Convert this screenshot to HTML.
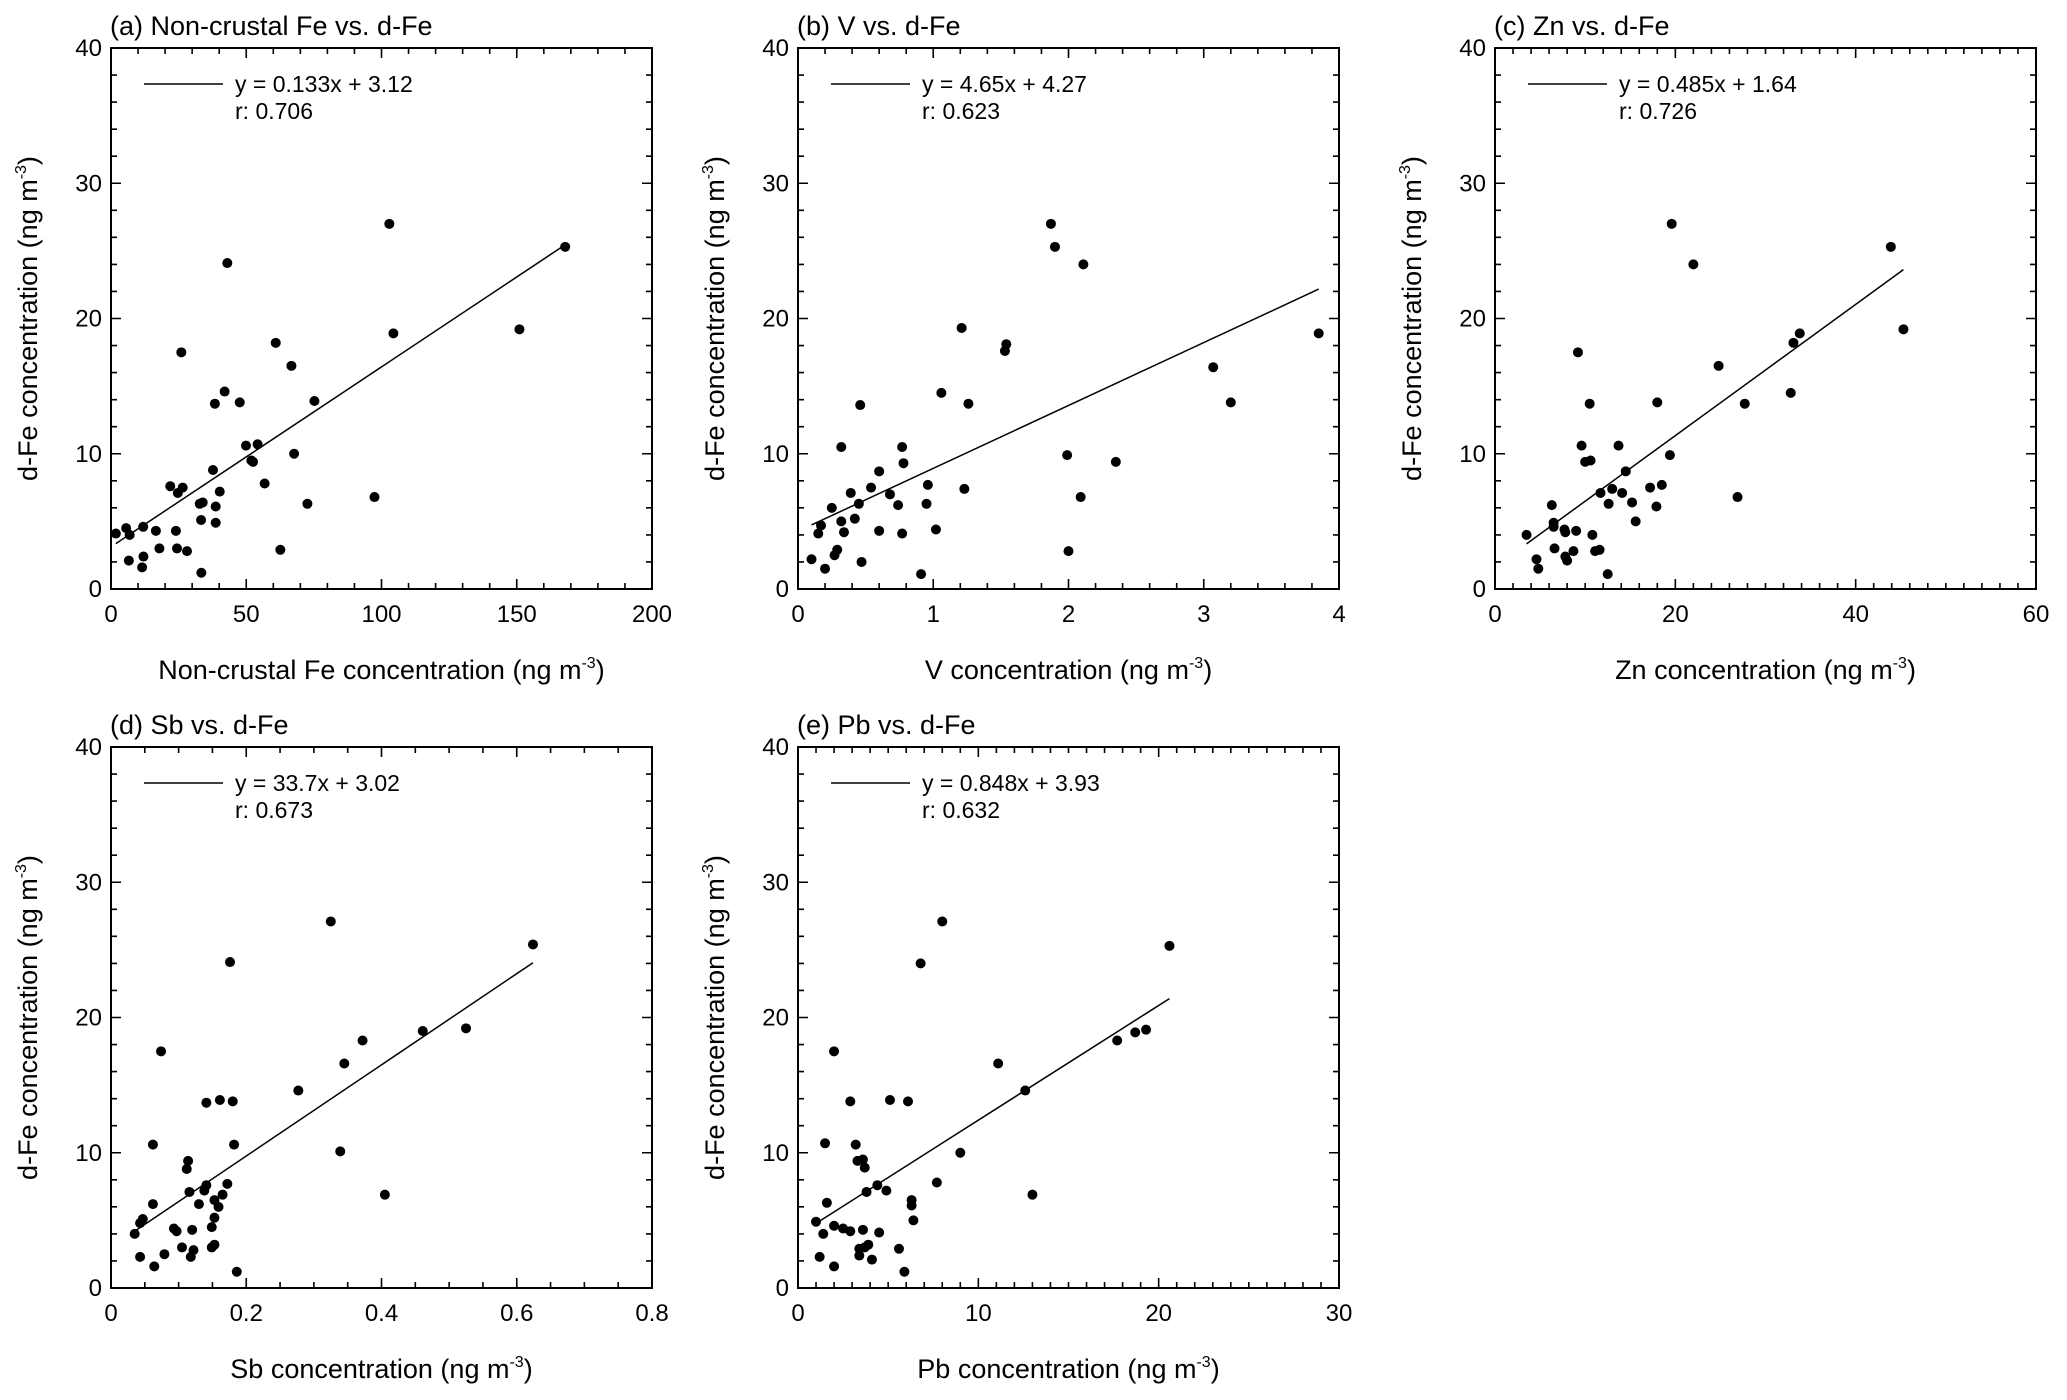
<!DOCTYPE html>
<html><head><meta charset="utf-8"><style>
html,body{margin:0;padding:0;background:#fff;}
svg{display:block;font-family:"Liberation Sans",Arial,sans-serif;}
</style></head><body>
<svg id="fig" width="2067" height="1400" viewBox="0 0 2067 1400" xmlns="http://www.w3.org/2000/svg"></svg>
<script>
const aX=[1.8,5.6,6.9,6.6,11.9,12,11.5,16.6,17.9,21.9,24.7,26.5,24,24.4,28.1,26,32.8,33.9,33.3,33.4,37.7,38.7,38.7,40.2,38.4,42,43,47.6,49.9,54.2,51.9,52.5,56.8,60.9,62.6,66.7,67.7,72.6,75.2,97.4,102.9,104.4,151,167.9];
const aY=[4.1,4.5,4.0,2.1,4.6,2.4,1.6,4.3,3.0,7.6,7.1,7.5,4.3,3.0,2.8,17.5,6.3,6.4,5.1,1.2,8.8,6.1,4.9,7.2,13.7,14.6,24.1,13.8,10.6,10.7,9.5,9.4,7.8,18.2,2.9,16.5,10,6.3,13.9,6.8,27,18.9,19.2,25.3];
const bX=[0.1,0.15,0.17,0.2,0.25,0.27,0.29,0.32,0.32,0.34,0.39,0.42,0.45,0.46,0.47,0.54,0.6,0.6,0.68,0.74,0.77,0.78,0.77,0.91,0.96,0.95,1.02,1.06,1.21,1.23,1.26,1.53,1.54,1.87,1.9,2.11,1.99,2.09,2.0,2.35,3.07,3.2,3.85];
const bY=[2.2,4.1,4.7,1.5,6.0,2.5,2.9,10.5,5.0,4.2,7.1,5.2,6.3,13.6,2.0,7.5,8.7,4.3,7.0,6.2,10.5,9.3,4.1,1.1,7.7,6.3,4.4,14.5,19.3,7.4,13.7,17.6,18.1,27.0,25.3,24.0,9.9,6.8,2.8,9.4,16.4,13.8,18.9];
const cX=[3.5,4.6,4.8,6.3,6.5,6.5,6.6,7.7,7.8,7.8,8.0,8.7,9.0,9.2,9.6,10.0,10.6,10.5,10.8,11.1,11.6,11.7,12.5,12.6,13.0,13.7,14.1,14.5,15.2,15.6,17.2,17.9,18.0,18.5,19.4,19.6,22.0,24.8,26.9,27.7,32.8,33.1,33.8,43.9,45.3];
const cY=[4.0,2.2,1.5,6.2,4.9,4.6,3.0,4.4,4.2,2.4,2.1,2.8,4.3,17.5,10.6,9.4,9.5,13.7,4.0,2.8,2.9,7.1,1.1,6.3,7.4,10.6,7.1,8.7,6.4,5.0,7.5,6.1,13.8,7.7,9.9,27.0,24.0,16.5,6.8,13.7,14.5,18.2,18.9,25.3,19.2];
const dX=[0.035,0.043,0.047,0.043,0.062,0.062,0.064,0.074,0.079,0.093,0.097,0.105,0.112,0.114,0.116,0.118,0.122,0.12,0.13,0.138,0.141,0.141,0.149,0.149,0.153,0.153,0.153,0.159,0.161,0.165,0.172,0.176,0.18,0.182,0.186,0.277,0.325,0.339,0.345,0.372,0.405,0.461,0.525,0.624];
const dY=[4.0,4.8,5.1,2.3,6.2,10.6,1.6,17.5,2.5,4.4,4.2,3.0,8.8,9.4,7.1,2.3,2.8,4.3,6.2,7.2,7.6,13.7,4.5,3.0,3.2,5.2,6.5,6.0,13.9,6.9,7.7,24.1,13.8,10.6,1.2,14.6,27.1,10.1,16.6,18.3,6.9,19.0,19.2,25.4];
const eX=[1.0,1.2,1.4,1.5,1.6,2.0,2.0,2.0,2.5,2.9,2.9,3.2,3.3,3.4,3.4,3.6,3.6,3.7,3.7,3.8,3.9,4.1,4.4,4.5,4.9,5.1,5.6,5.9,6.1,6.3,6.3,6.4,6.8,7.7,8.0,9.0,11.1,12.6,13.0,17.7,18.7,19.3,20.6];
const eY=[4.9,2.3,4.0,10.7,6.3,1.6,17.5,4.6,4.4,13.8,4.2,10.6,9.4,2.9,2.4,9.5,4.3,8.9,3.0,7.1,3.2,2.1,7.6,4.1,7.2,13.9,2.9,1.2,13.8,6.5,6.1,5.0,24.0,7.8,27.1,10.0,16.6,14.6,6.9,18.3,18.9,19.1,25.3];
const slopes=[0.133,4.65,0.485,33.7,0.848];
const intercepts=[3.12,4.27,1.64,3.02,3.93];
const rVals=["0.706","0.623","0.726","0.673","0.632"];
const eqLabels=["y = 0.133x + 3.12","y = 4.65x + 4.27","y = 0.485x + 1.64","y = 33.7x + 3.02","y = 0.848x + 3.93"];
const titles=["(a) Non-crustal Fe vs. d-Fe","(b) V vs. d-Fe","(c) Zn vs. d-Fe","(d) Sb vs. d-Fe","(e) Pb vs. d-Fe"];
const xNames=["Non-crustal Fe","V","Zn","Sb","Pb"];
const xMax=[200,4,60,0.8,30];
const xMajor=[50,1,20,0.2,10];
const xMinor=[10,0.2,2,0.05,1];
const xDec=[0,0,0,1,0];
const yMax=40,yMajor=10,yMinor=2;

const NS="http://www.w3.org/2000/svg";
const svg=document.getElementById('fig');
function mk(tag,attrs,parent,text){const e=document.createElementNS(NS,tag);for(const k in attrs)e.setAttribute(k,attrs[k]);if(text!==undefined)e.textContent=text;parent.appendChild(e);return e;}
const layout=[[111,48],[798,48],[1495,48],[111,747],[798,747]];
const W=541,H=541;
const XS=[aX,bX,cX,dX,eX],YS=[aY,bY,cY,dY,eY];
const keys=['a','b','c','d','e'];
for(let p=0;p<5;p++){
  const L=layout[p][0],T=layout[p][1];
  const g=mk('g',{},svg);
  
  
  const sx=v=>L+v/xMax[p]*W, sy=v=>T+H-v/yMax*H;
  const t=mk('text',{x:L-1,y:T-13,'font-size':27},g,titles[p]);
  
  
  const fr=mk('rect',{x:L,y:T,width:W,height:H,fill:'none',stroke:'#000','stroke-width':2},g);
  
  
  let ticks='';
  const nx=Math.round(xMax[p]/xMinor[p]);
  for(let i=0;i<=nx;i++){const v=i*xMinor[p];const maj=Math.abs(v/xMajor[p]-Math.round(v/xMajor[p]))<1e-6;const len=maj?10:6;const x=sx(v);
    ticks+=`M${x},${T+H}v${-len}M${x},${T}v${len}`;
    if(maj){const lb=mk('text',{x:x,y:T+H+33,'font-size':24,'text-anchor':'middle'},g,i===0?'0':v.toFixed(xDec[p]));
      }}
  const ny=yMax/yMinor;
  for(let i=0;i<=ny;i++){const v=i*yMinor;const maj=v%yMajor===0;const len=maj?10:6;const y=sy(v);
    ticks+=`M${L},${y}h${len}M${L+W},${y}h${-len}`;
    if(maj){const lb=mk('text',{x:L-9,y:y+8,'font-size':24,'text-anchor':'end'},g,String(v));
      }}
  const tk=mk('path',{d:ticks,stroke:'#000','stroke-width':1.6,fill:'none'},g);
  
  const xt=mk('text',{x:L+W/2,y:T+H+90,'font-size':27,'text-anchor':'middle'},g);
  
  xt.appendChild(document.createTextNode(xNames[p]+' concentration (ng m'));
  mk('tspan',{'font-size':16,dy:-11},xt,'-3');
  mk('tspan',{dy:11},xt,')');
  const yx=L-74,yy=T+H/2;
  const yt=mk('text',{x:yx,y:yy,'font-size':27,'text-anchor':'middle',transform:`rotate(-90 ${yx} ${yy})`},g);
  
  yt.appendChild(document.createTextNode('d-Fe concentration (ng m'));
  mk('tspan',{'font-size':16,dy:-11},yt,'-3');
  mk('tspan',{dy:11},yt,')');
  const xs=XS[p],ys=YS[p];
  const x0=Math.min(...xs),x1=Math.max(...xs);
  const fl=mk('line',{x1:sx(x0),y1:sy(slopes[p]*x0+intercepts[p]),x2:sx(x1),y2:sy(slopes[p]*x1+intercepts[p]),stroke:'#000','stroke-width':1.5},g);
  
  for(let i=0;i<xs.length;i++){const c=mk('circle',{cx:sx(xs[i]),cy:sy(ys[i]),r:5,fill:'#000'},g);
    }
  const lg=mk('line',{x1:L+33,y1:T+36,x2:L+112,y2:T+36,stroke:'#000','stroke-width':1.5},g);
  
  const eq=mk('text',{x:L+124,y:T+44,'font-size':23},g,eqLabels[p]);
  
  const rr=mk('text',{x:L+124,y:T+71,'font-size':23},g,'r: '+rVals[p]);
  
}
</script>
</body></html>
